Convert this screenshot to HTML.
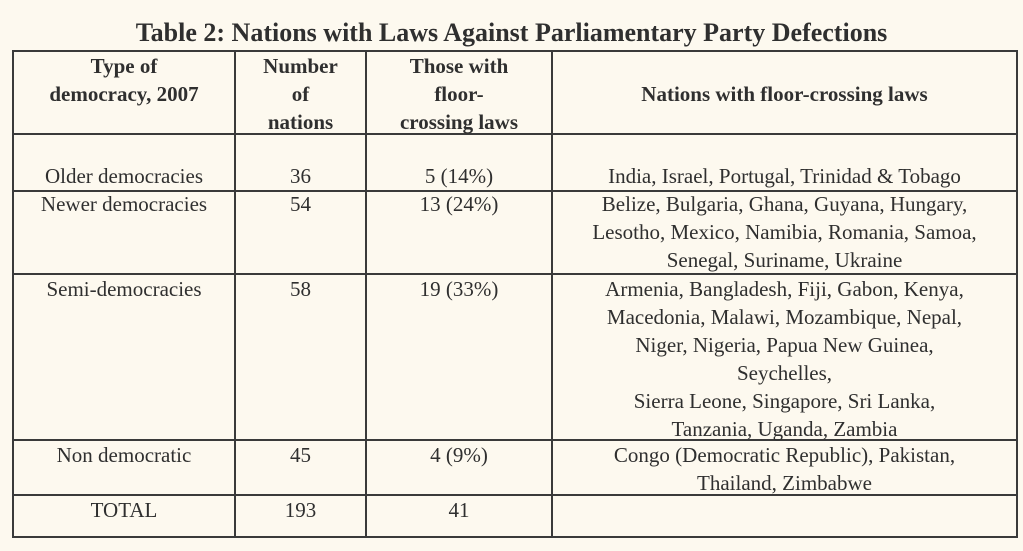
<!DOCTYPE html>
<html><head><meta charset="utf-8"><style>
body{margin:0;width:1023px;height:551px;background:#fdf9ef;overflow:hidden;font-family:"Liberation Serif","Times New Roman",Times,"Noto Serif CJK SC","DejaVu Serif",serif;color:#2f2f2f;position:relative}
.t{position:absolute;left:0;width:1023px;text-align:center;font-weight:bold;font-size:26px;top:18px;line-height:30px}
.h{position:absolute;background:#3a3a3a;height:2px}
.v{position:absolute;background:#3a3a3a;width:2px;top:50px;height:488px}
.c{position:absolute;text-align:center;font-size:21px;line-height:28px;font-family:"Liberation Serif","Times New Roman",Times,"Noto Serif CJK SC","DejaVu Serif",serif}
.b{font-weight:bold}
</style></head><body>
<div class="t">Table 2: Nations with Laws Against Parliamentary Party Defections</div>
<div>
<div class="h" style="left:12px;width:1006px;top:50px"></div>
<div class="h" style="left:12px;width:1006px;top:133px"></div>
<div class="h" style="left:12px;width:1006px;top:190px"></div>
<div class="h" style="left:12px;width:1006px;top:273px"></div>
<div class="h" style="left:12px;width:1006px;top:439px"></div>
<div class="h" style="left:12px;width:1006px;top:494px"></div>
<div class="h" style="left:12px;width:1006px;top:536px"></div>
<div class="v" style="left:12px"></div>
<div class="v" style="left:234px"></div>
<div class="v" style="left:365px"></div>
<div class="v" style="left:551px"></div>
<div class="v" style="left:1016px"></div>

<div class="c b" style="left:14px;width:220px;top:52px">Type of<br>democracy, 2007</div>
<div class="c b" style="left:236px;width:129px;top:52px">Number<br>of<br>nations</div>
<div class="c b" style="left:367px;width:184px;top:52px">Those with<br>floor-<br>crossing laws</div>
<div class="c b" style="left:553px;width:463px;top:80px">Nations with floor-crossing laws</div>

<div class="c" style="left:14px;width:220px;top:162px">Older democracies</div>
<div class="c" style="left:236px;width:129px;top:162px">36</div>
<div class="c" style="left:367px;width:184px;top:162px">5 (14%)</div>
<div class="c" style="left:553px;width:463px;top:162px">India, Israel, Portugal, Trinidad &amp; Tobago</div>

<div class="c" style="left:14px;width:220px;top:190px">Newer democracies</div>
<div class="c" style="left:236px;width:129px;top:190px">54</div>
<div class="c" style="left:367px;width:184px;top:190px">13 (24%)</div>
<div class="c" style="left:553px;width:463px;top:190px">Belize, Bulgaria, Ghana, Guyana, Hungary,<br>Lesotho, Mexico, Namibia, Romania, Samoa,<br>Senegal, Suriname, Ukraine</div>

<div class="c" style="left:14px;width:220px;top:275px">Semi-democracies</div>
<div class="c" style="left:236px;width:129px;top:275px">58</div>
<div class="c" style="left:367px;width:184px;top:275px">19 (33%)</div>
<div class="c" style="left:553px;width:463px;top:275px">Armenia, Bangladesh, Fiji, Gabon, Kenya,<br>Macedonia, Malawi, Mozambique, Nepal,<br>Niger, Nigeria, Papua New Guinea,<br>Seychelles,<br>Sierra Leone, Singapore, Sri Lanka,<br>Tanzania, Uganda, Zambia</div>

<div class="c" style="left:14px;width:220px;top:441px">Non democratic</div>
<div class="c" style="left:236px;width:129px;top:441px">45</div>
<div class="c" style="left:367px;width:184px;top:441px">4 (9%)</div>
<div class="c" style="left:553px;width:463px;top:441px">Congo (Democratic Republic), Pakistan,<br>Thailand, Zimbabwe</div>

<div class="c" style="left:14px;width:220px;top:496px">TOTAL</div>
<div class="c" style="left:236px;width:129px;top:496px">193</div>
<div class="c" style="left:367px;width:184px;top:496px">41</div>
</div>
</body></html>
